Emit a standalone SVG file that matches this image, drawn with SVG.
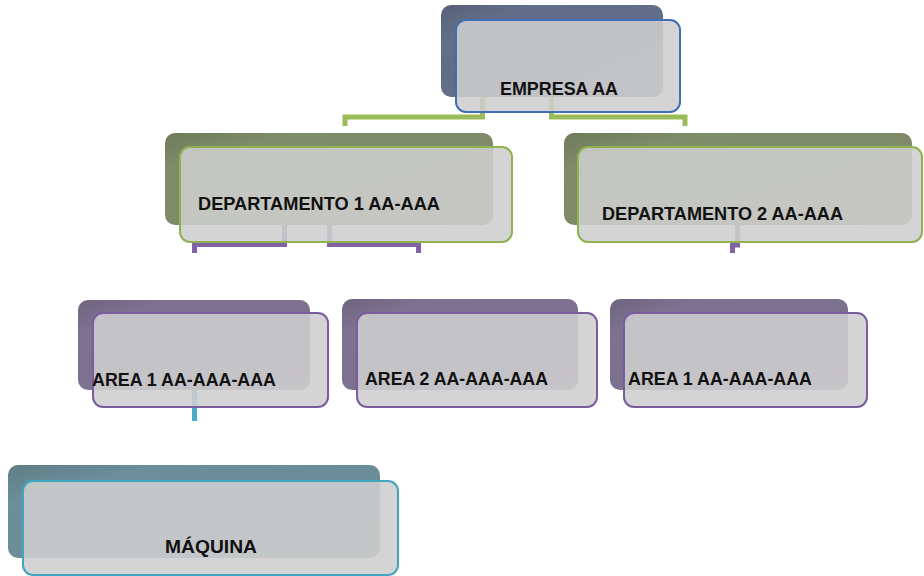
<svg xmlns="http://www.w3.org/2000/svg" width="924" height="576" viewBox="0 0 924 576">
  <defs>
    <linearGradient id="shade" x1="0" y1="0" x2="1" y2="1">
      <stop offset="0" stop-color="#000" stop-opacity="0.12"/>
      <stop offset="0.2" stop-color="#000" stop-opacity="0"/>
      <stop offset="1" stop-color="#fff" stop-opacity="0.05"/>
    </linearGradient>
    <style>
      .back { stroke: none; }
      .shade { fill: url(#shade); }
      .front { fill: #cecece; fill-opacity: 0.88; stroke-width: 2; }
      .lbl { font-family: "Liberation Sans", Arial, sans-serif; font-weight: bold; font-size: 17.8px; fill: #111; }
      .conn { fill: none; stroke-width: 5; stroke-linejoin: miter; stroke-linecap: butt; }
      .g { stroke: #9bbb59; }
      .p { stroke: #8064a2; }
      .c { stroke: #4bacc6; }
    </style>
  </defs>
  <rect width="924" height="576" fill="#fff"/>

  <!-- connectors sit behind the boxes; the translucent front panels let them show through -->
  <g id="connectors">
    <path class="conn g" d="M482.5,95 V117 H345 V126"/>
    <path class="conn g" d="M551.5,95 V117 H685 V126"/>
    <path class="conn p" d="M284.5,222 V244.5 H194.5 V253"/>
    <path class="conn p" d="M329.5,222 V244.5 H418.5 V253"/>
    <path class="conn p" d="M737.5,222 V245 H732.5 V253"/>
    <path class="conn c" d="M194.5,388 V421"/>
  </g>

  <g id="empresa">
    <rect class="back" x="441" y="5" width="222" height="92" rx="10" fill="#626e88"/>
    <rect class="shade" x="441" y="5" width="222" height="92" rx="10"/>
    <rect class="front" x="456" y="20" width="224" height="92" rx="10" stroke="#3f6fb4"/>
    <text class="lbl" x="500" y="95" textLength="118" lengthAdjust="spacingAndGlyphs">EMPRESA AA</text>
  </g>

  <g id="departamento1">
    <rect class="back" x="165" y="133" width="328" height="92" rx="10" fill="#7f8b69"/>
    <rect class="shade" x="165" y="133" width="328" height="92" rx="10"/>
    <rect class="front" x="180" y="147" width="332" height="95" rx="10" stroke="#8fb14f"/>
    <text class="lbl" x="198" y="210" textLength="242" lengthAdjust="spacingAndGlyphs">DEPARTAMENTO 1 AA-AAA</text>
  </g>

  <g id="departamento2">
    <rect class="back" x="564" y="133" width="348" height="92" rx="10" fill="#7f8b69"/>
    <rect class="shade" x="564" y="133" width="348" height="92" rx="10"/>
    <rect class="front" x="578" y="147" width="344" height="95" rx="10" stroke="#8fb14f"/>
    <text class="lbl" x="602" y="220" textLength="241" lengthAdjust="spacingAndGlyphs">DEPARTAMENTO 2 AA-AAA</text>
  </g>

  <g id="area1">
    <rect class="back" x="78" y="300" width="232" height="90" rx="10" fill="#7d7290"/>
    <rect class="shade" x="78" y="300" width="232" height="90" rx="10"/>
    <rect class="front" x="93" y="313" width="235" height="94" rx="10" stroke="#7a5da0"/>
    <text class="lbl" x="92" y="386" textLength="184" lengthAdjust="spacingAndGlyphs">AREA 1 AA-AAA-AAA</text>
  </g>

  <g id="area2">
    <rect class="back" x="342" y="299" width="236" height="91" rx="10" fill="#7d7290"/>
    <rect class="shade" x="342" y="299" width="236" height="91" rx="10"/>
    <rect class="front" x="357" y="313" width="240" height="94" rx="10" stroke="#7a5da0"/>
    <text class="lbl" x="365" y="385" textLength="183" lengthAdjust="spacingAndGlyphs">AREA 2 AA-AAA-AAA</text>
  </g>

  <g id="area3">
    <rect class="back" x="610" y="299" width="238" height="91" rx="10" fill="#7d7290"/>
    <rect class="shade" x="610" y="299" width="238" height="91" rx="10"/>
    <rect class="front" x="624" y="313" width="243" height="94" rx="10" stroke="#7a5da0"/>
    <text class="lbl" x="628" y="385" textLength="184" lengthAdjust="spacingAndGlyphs">AREA 1 AA-AAA-AAA</text>
  </g>

  <g id="maquina">
    <rect class="back" x="8" y="465" width="372" height="93" rx="10" fill="#6b8e99"/>
    <rect class="shade" x="8" y="465" width="372" height="93" rx="10"/>
    <rect class="front" x="23" y="481" width="375" height="94" rx="10" stroke="#3fa6c2"/>
    <text class="lbl" x="165" y="553" textLength="92" lengthAdjust="spacingAndGlyphs">MÁQUINA</text>
  </g>
</svg>
